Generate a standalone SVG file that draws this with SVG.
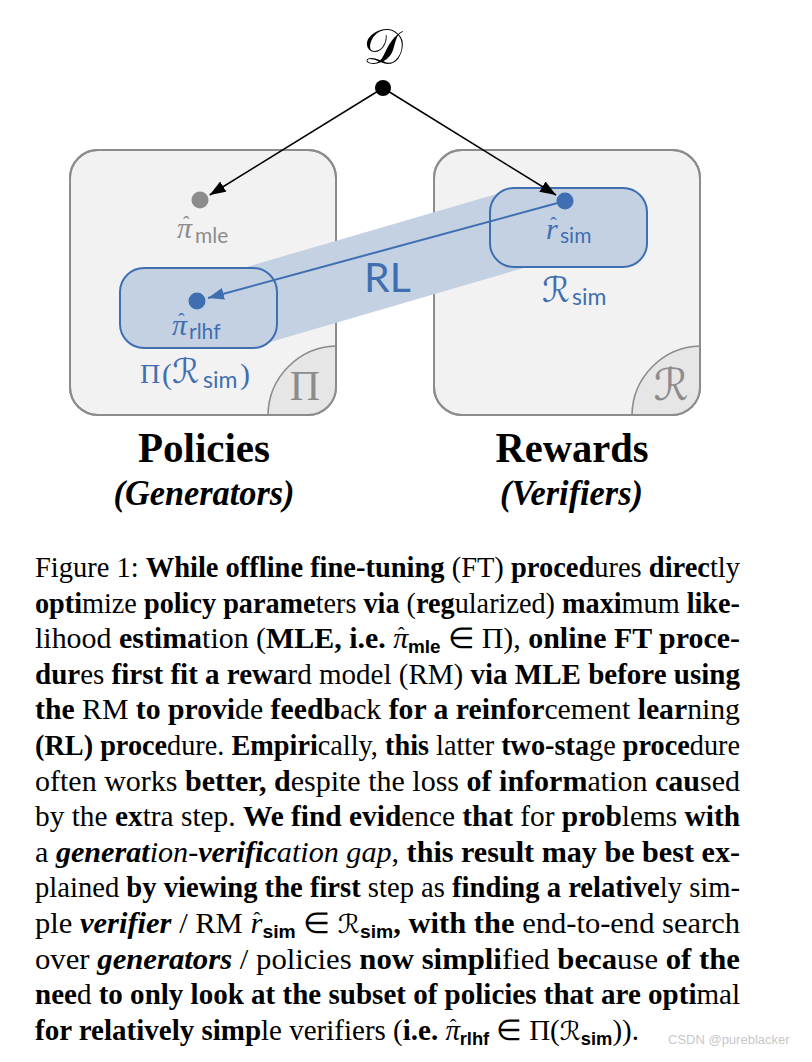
<svg xmlns="http://www.w3.org/2000/svg" width="812" height="1062" viewBox="0 0 812 1062">
<style>
.box{fill:#f2f2f2;stroke:#8c8c8c;stroke-width:2}
.corner{fill:#e6e6e6;stroke:#8c8c8c;stroke-width:1.6}
.inner{fill:#c3d1e3;stroke:#3f6fb0;stroke-width:2}
.band{fill:#c3d1e3}
.blue{fill:#3f6fb0}
.gray{fill:#8c8c8c}
.serif{font-family:"Liberation Serif",serif}
.math{font-family:"Liberation Serif",serif;font-style:italic}
.sub{font-family:Lato,"Open Sans",sans-serif;font-style:normal}
.hat{font-family:"Liberation Serif",serif;font-style:normal;font-weight:400}
.script{font-family:"DejaVu Sans",sans-serif}
.cap{font-family:"Liberation Serif",serif;font-size:28.5px;fill:#000}
.b{font-weight:700}
.i{font-style:italic}
.bi{font-weight:700;font-style:italic}
.cs{font-family:"Liberation Sans",sans-serif;font-weight:700;font-size:18px}
.cscr{font-family:"DejaVu Sans",sans-serif;font-size:26px}
.head{font-family:"Liberation Serif",serif;font-weight:700;fill:#000}
.blk{stroke:#000;stroke-width:1.5;fill:none}
.bln{stroke:#3f6fb0;stroke-width:2;fill:none}
</style>
<defs>
<clipPath id="clipL"><rect x="70" y="150" width="266" height="265" rx="28"/></clipPath>
<clipPath id="clipR"><rect x="434" y="150" width="266" height="265" rx="28"/></clipPath>
<marker id="ahK" viewBox="0 0 16 12" refX="16" refY="6" markerWidth="16" markerHeight="12" markerUnits="userSpaceOnUse" orient="auto"><path d="M0,0 L16,6 L0,12 z" fill="#000"/></marker>
<marker id="ahB" viewBox="0 0 16 12" refX="16" refY="6" markerWidth="16" markerHeight="12" markerUnits="userSpaceOnUse" orient="auto"><path d="M0,0 L16,6 L0,12 z" fill="#3f6fb0"/></marker>
</defs>

<g id="policies-box">
<rect class="box" x="70" y="150" width="266" height="265" rx="28"/>
<circle class="corner" cx="338" cy="416" r="70" clip-path="url(#clipL)"/>
<rect x="70" y="150" width="266" height="265" rx="28" fill="none" stroke="#8c8c8c" stroke-width="2"/>
<text class="serif gray" x="305" y="400" font-size="42" text-anchor="middle">Π</text>
</g>

<g id="rewards-box">
<rect class="box" x="434" y="150" width="266" height="265" rx="28"/>
<circle class="corner" cx="702" cy="416" r="70" clip-path="url(#clipR)"/>
<rect x="434" y="150" width="266" height="265" rx="28" fill="none" stroke="#8c8c8c" stroke-width="2"/>
<text class="script gray" x="671" y="400" font-size="44" text-anchor="middle">ℛ</text>
</g>

<g id="rl-band">
<polygon class="band" points="235,270.3 500,193.1 540,263.2 260,345"/>
<text class="sub blue" x="364" y="292" font-size="41">RL</text>
</g>

<g id="pi-rsim-set">
<rect class="inner" x="120" y="268" width="157" height="80" rx="24"/>
<text class="serif blue" x="140" y="383" font-size="28">Π<tspan x="162" y="384" font-size="30">(</tspan><tspan class="script" x="172" y="383" font-size="34">ℛ</tspan><tspan class="sub" x="203" y="388" font-size="23">sim</tspan><tspan x="240" y="384" font-size="30">)</tspan></text>
</g>

<g id="r-sim-set">
<rect class="inner" x="490" y="188" width="157" height="79" rx="24"/>
<text class="script blue" x="542" y="302" font-size="35">ℛ<tspan class="sub" x="572" y="305" font-size="23">sim</tspan></text>
</g>

<g id="connectors">
<line class="blk" x1="383" y1="88" x2="209.7" y2="195" marker-end="url(#ahK)"/>
<line class="blk" x1="383" y1="88" x2="556" y2="195" marker-end="url(#ahK)"/>
<line class="bln" x1="565" y1="201" x2="208" y2="298" marker-end="url(#ahB)"/>
</g>

<g id="node-D">
<circle cx="383" cy="88" r="8" fill="#000"/>
<text class="script" x="383" y="64" font-size="50" text-anchor="middle" fill="#000">𝒟</text>
</g>

<g id="node-pi-mle">
<circle cx="200" cy="200" r="8.5" fill="#8c8c8c"/>
<text class="math gray" x="177" y="238" font-size="30">π<tspan class="hat" x="183" y="231" font-size="20">ˆ</tspan><tspan class="sub" x="195" y="243" font-size="21">mle</tspan></text>
</g>

<g id="node-pi-rlhf">
<circle cx="197" cy="301" r="8.5" class="blue"/>
<text class="math blue" x="172" y="335" font-size="30">π<tspan class="hat" x="178" y="328" font-size="20">ˆ</tspan><tspan class="sub" x="189" y="339" font-size="21">rlhf</tspan></text>
</g>

<g id="node-r-sim">
<circle cx="565" cy="201" r="8.5" class="blue"/>
<text class="math blue" x="546" y="239" font-size="30">r<tspan class="hat" x="550" y="232" font-size="20">ˆ</tspan><tspan class="sub" x="560" y="243" font-size="21">sim</tspan></text>
</g>

<g id="headings">
<text class="head" x="204" y="462" font-size="42" text-anchor="middle" textLength="132" lengthAdjust="spacingAndGlyphs">Policies</text>
<text class="head" x="204" y="505" font-size="36" font-style="italic" text-anchor="middle" textLength="181" lengthAdjust="spacingAndGlyphs">(Generators)</text>
<text class="head" x="572" y="462" font-size="42" text-anchor="middle" textLength="153" lengthAdjust="spacingAndGlyphs">Rewards</text>
<text class="head" x="571.5" y="505" font-size="36" font-style="italic" text-anchor="middle" textLength="143" lengthAdjust="spacingAndGlyphs">(Verifiers)</text>
</g>

<g id="caption" class="cap">
<text x="35" y="577" textLength="705" lengthAdjust="spacingAndGlyphs">Figure 1: <tspan class="b">While offline fine-tuning</tspan> (FT) <tspan class="b">proced</tspan>ures <tspan class="b">direc</tspan>tly</text>
<text x="35" y="612.6" textLength="705" lengthAdjust="spacingAndGlyphs"><tspan class="b">opti</tspan>mize <tspan class="b">policy parame</tspan>ters <tspan class="b">via</tspan> (<tspan class="b">reg</tspan>ularized) <tspan class="b">maxi</tspan>mum <tspan class="b">like-</tspan></text>
<text x="35" y="648.2" textLength="705" lengthAdjust="spacingAndGlyphs">lihood <tspan class="b">estima</tspan>tion (<tspan class="b">MLE, i.e.</tspan> <tspan class="i">π</tspan><tspan class="hat" dx="-10" dy="-6" font-size="20">ˆ</tspan><tspan class="cs" dx="3" dy="11">mle</tspan><tspan dy="-5"> ∈ Π), </tspan><tspan class="b">online FT proce-</tspan></text>
<text x="35" y="683.8" textLength="705" lengthAdjust="spacingAndGlyphs"><tspan class="b">dur</tspan>es <tspan class="b">first fit a rewa</tspan>rd model (RM) <tspan class="b">via MLE before using</tspan></text>
<text x="35" y="719.4" textLength="705" lengthAdjust="spacingAndGlyphs"><tspan class="b">the</tspan> RM <tspan class="b">to provi</tspan>de <tspan class="b">feedb</tspan>ack <tspan class="b">for a reinfor</tspan>cement <tspan class="b">lear</tspan>ning</text>
<text x="35" y="755" textLength="705" lengthAdjust="spacingAndGlyphs"><tspan class="b">(RL) proce</tspan>dure. <tspan class="b">Empiri</tspan>cally, <tspan class="b">this</tspan> latter <tspan class="b">two-sta</tspan>ge <tspan class="b">proce</tspan>dure</text>
<text x="35" y="790.6" textLength="705" lengthAdjust="spacingAndGlyphs">often works <tspan class="b">better, d</tspan>espite the loss <tspan class="b">of inform</tspan>ation <tspan class="b">cau</tspan>sed</text>
<text x="35" y="826.2" textLength="705" lengthAdjust="spacingAndGlyphs">by the <tspan class="b">ex</tspan>tra step. <tspan class="b">We find evid</tspan>ence <tspan class="b">that</tspan> for <tspan class="b">prob</tspan>lems <tspan class="b">with</tspan></text>
<text x="35" y="861.8" textLength="705" lengthAdjust="spacingAndGlyphs">a <tspan class="bi">generat</tspan><tspan class="i">ion-</tspan><tspan class="bi">verific</tspan><tspan class="i">ation gap</tspan>, <tspan class="b">this result may be best ex-</tspan></text>
<text x="35" y="897.4" textLength="705" lengthAdjust="spacingAndGlyphs">plained <tspan class="b">by viewing the first</tspan> step as <tspan class="b">finding a relative</tspan>ly sim-</text>
<text x="35" y="933" textLength="705" lengthAdjust="spacingAndGlyphs">ple <tspan class="bi">verifier</tspan> / RM <tspan class="i">r</tspan><tspan class="hat" dx="-8.5" dy="-6" font-size="20">ˆ</tspan><tspan class="cs" dx="2" dy="11">sim</tspan><tspan dy="-5"> ∈ </tspan><tspan class="cscr">ℛ</tspan><tspan class="cs" dy="5">sim</tspan><tspan class="b" dy="-5">, with the</tspan> end-to-end search</text>
<text x="35" y="968.6" textLength="705" lengthAdjust="spacingAndGlyphs">over <tspan class="bi">generators</tspan> / policies <tspan class="b">now simpli</tspan>fied <tspan class="b">beca</tspan>use <tspan class="b">of the</tspan></text>
<text x="35" y="1004.2" textLength="705" lengthAdjust="spacingAndGlyphs"><tspan class="b">nee</tspan>d <tspan class="b">to only look at the subset of policies that are opti</tspan>mal</text>
<text x="35" y="1039.8" textLength="604" lengthAdjust="spacingAndGlyphs"><tspan class="b">for relatively simp</tspan>le verifiers (<tspan class="b">i.e.</tspan> <tspan class="i">π</tspan><tspan class="hat" dx="-10" dy="-6" font-size="20">ˆ</tspan><tspan class="cs" dx="3" dy="11">rlhf</tspan><tspan dy="-5"> ∈ Π(</tspan><tspan class="cscr">ℛ</tspan><tspan class="cs" dy="5">sim</tspan><tspan dy="-5">)).</tspan></text>
</g>

<g id="watermark">
<text x="668" y="1044" font-family="Liberation Sans, sans-serif" font-size="13" fill="#c8c8c8">CSDN @pureblacker</text>
</g>
</svg>
